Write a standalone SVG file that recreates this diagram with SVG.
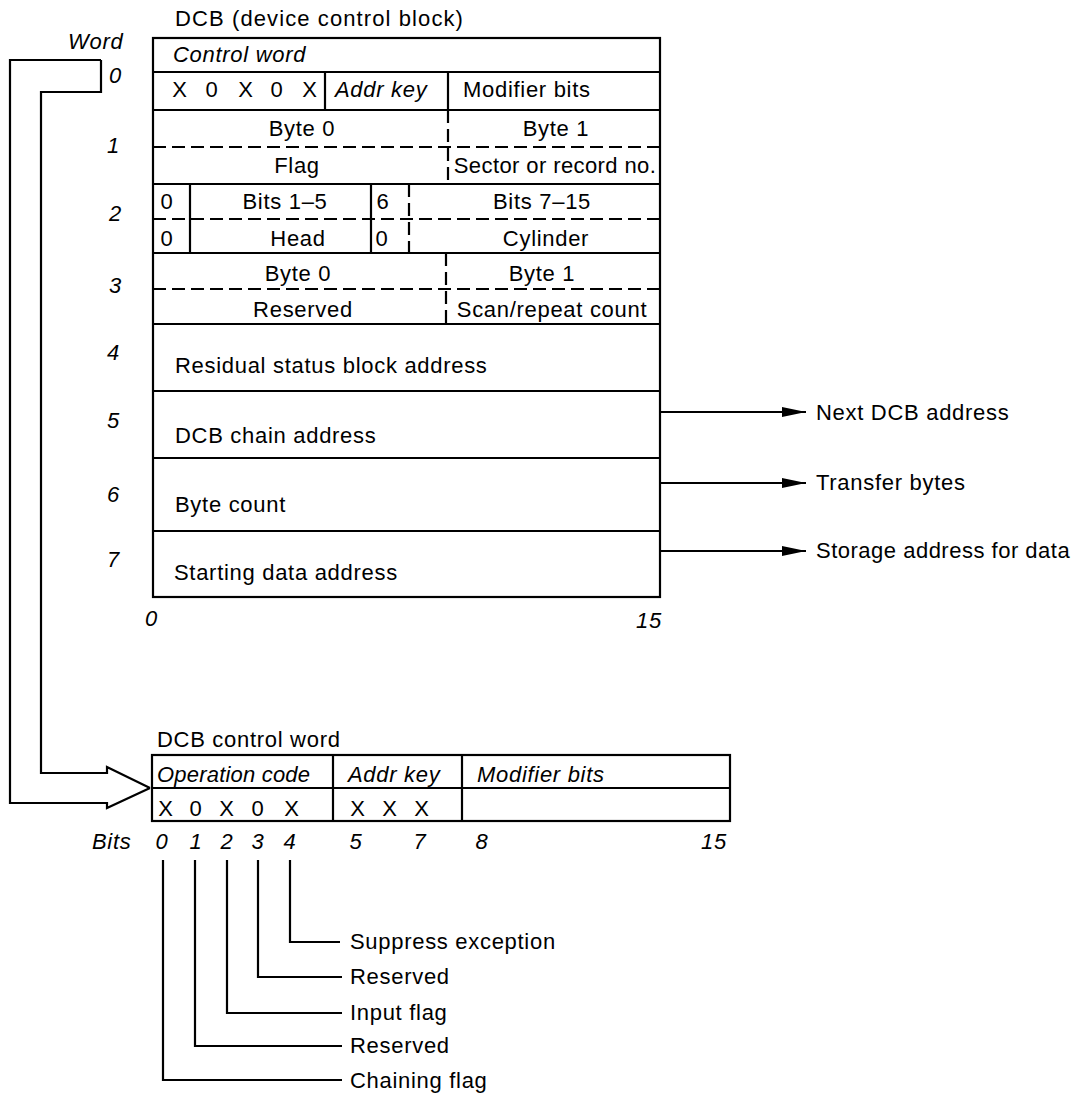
<svg xmlns="http://www.w3.org/2000/svg" width="1074" height="1095" viewBox="0 0 1074 1095">
<style>
.t{font-family:"Liberation Sans",Arial,Helvetica,sans-serif;font-size:22px;letter-spacing:0.7px;fill:#000}
.i{font-style:italic}
.m{text-anchor:middle}
.e{text-anchor:end}
.ln{stroke:#000;stroke-width:2.2;fill:none}
.ds{stroke-dasharray:13 6}
</style>
<defs>
<marker id="ah" markerUnits="userSpaceOnUse" markerWidth="26" markerHeight="12" refX="24" refY="6" orient="auto">
<path d="M0,1 L24,6 L0,11 Z" fill="#000"/>
</marker>
</defs>
<rect width="1074" height="1095" fill="#fff"/>

<g id="title-dcb"><text class="t" x="175" y="26" style="letter-spacing:1.1px">DCB (device control block)</text></g>
<g id="word-labels">
<text class="t i" x="68" y="49">Word</text>
<text class="t i e" x="122" y="83">0</text>
<text class="t i e" x="120" y="153">1</text>
<text class="t i e" x="122" y="221">2</text>
<text class="t i e" x="122" y="293">3</text>
<text class="t i e" x="120" y="360">4</text>
<text class="t i e" x="120" y="428">5</text>
<text class="t i e" x="120" y="502">6</text>
<text class="t i e" x="120" y="567">7</text>
<text class="t i" x="145" y="626">0</text>
<text class="t i" x="636" y="628">15</text>
</g>

<g id="dcb-table">
<rect class="ln" x="153" y="38" width="507" height="559"/>
<g class="ln">
<path d="M153,72H660 M153,110H660 M153,184H660 M153,253H660 M153,324H660 M153,391H660 M153,458H660 M153,531H660"/>
<path d="M325,72V110 M448,72V110 M190,184V253 M371,184V253"/>
<path class="ds" d="M153,147H660 M153,219H660 M153,289H660 M448,110V184 M409,184V253 M446,253V324"/>
</g>
</g>

<g id="word0">
<text class="t i" x="173" y="62">Control word</text>
<text class="t m" x="180" y="97">X</text>
<text class="t m" x="212" y="97">0</text>
<text class="t m" x="246" y="97">X</text>
<text class="t m" x="277" y="97">0</text>
<text class="t m" x="310" y="97">X</text>
<text class="t i" x="335" y="97">Addr key</text>
<text class="t" x="463" y="97">Modifier bits</text>
</g>
<g id="word1">
<text class="t m" x="302" y="136">Byte 0</text>
<text class="t m" x="556" y="136">Byte 1</text>
<text class="t m" x="297" y="173">Flag</text>
<text class="t m" x="555" y="173" style="letter-spacing:0.4px">Sector or record no.</text>
</g>
<g id="word2">
<text class="t m" x="167" y="209">0</text>
<text class="t m" x="285" y="209">Bits 1–5</text>
<text class="t m" x="383" y="209">6</text>
<text class="t m" x="542" y="209">Bits 7–15</text>
<text class="t m" x="167" y="246">0</text>
<text class="t m" x="298" y="246">Head</text>
<text class="t m" x="382" y="246">0</text>
<text class="t m" x="546" y="246">Cylinder</text>
</g>
<g id="word3">
<text class="t m" x="298" y="281">Byte 0</text>
<text class="t m" x="542" y="281">Byte 1</text>
<text class="t m" x="303" y="317">Reserved</text>
<text class="t m" x="552" y="317">Scan/repeat count</text>
</g>
<g id="word4"><text class="t" x="175" y="373">Residual status block address</text></g>
<g id="word5"><text class="t" x="175" y="443">DCB chain address</text></g>
<g id="word6"><text class="t" x="175" y="512">Byte count</text></g>
<g id="word7"><text class="t" x="174" y="580">Starting data address</text></g>

<g id="out-labels">
<text class="t" x="816" y="420">Next DCB address</text>
<text class="t" x="816" y="490">Transfer bytes</text>
<text class="t" x="816" y="558" style="letter-spacing:0.5px">Storage address for data</text>
</g>

<g id="control-word-table">
<text class="t" x="157" y="747">DCB control word</text>
<rect class="ln" x="152" y="755" width="578" height="66"/>
<path class="ln" d="M152,788H730 M333,755V821 M462,755V821"/>
<text class="t i" x="157" y="782" style="letter-spacing:0.2px">Operation code</text>
<text class="t i" x="348" y="782">Addr key</text>
<text class="t i" x="477" y="782">Modifier bits</text>
<text class="t m" x="166" y="816">X</text>
<text class="t m" x="196" y="816">0</text>
<text class="t m" x="227" y="816">X</text>
<text class="t m" x="258" y="816">0</text>
<text class="t m" x="292" y="816">X</text>
<text class="t m" x="358" y="816">X</text>
<text class="t m" x="390" y="816">X</text>
<text class="t m" x="422" y="816">X</text>
</g>

<g id="bit-labels">
<text class="t i" x="92" y="849">Bits</text>
<text class="t i m" x="162" y="849">0</text>
<text class="t i m" x="196" y="849">1</text>
<text class="t i m" x="227" y="849">2</text>
<text class="t i m" x="258" y="849">3</text>
<text class="t i m" x="290" y="849">4</text>
<text class="t i m" x="356" y="849">5</text>
<text class="t i m" x="420" y="849">7</text>
<text class="t i m" x="482" y="849">8</text>
<text class="t i" x="701" y="849">15</text>
</g>

<g id="bit-meanings">
<text class="t" x="350" y="949">Suppress exception</text>
<text class="t" x="350" y="984">Reserved</text>
<text class="t" x="350" y="1020">Input flag</text>
<text class="t" x="350" y="1053">Reserved</text>
<text class="t" x="350" y="1088">Chaining flag</text>
</g>

<g id="connectors" class="ln">
<path d="M101,60 L10,60 L10,803 L107,803 L107,808 L150,788"/>
<path d="M101,60 L101,92 L41,92 L41,773 L107,773 L107,767 L150,788"/>
<line x1="660" y1="412" x2="806" y2="412" marker-end="url(#ah)"/>
<line x1="660" y1="483" x2="806" y2="483" marker-end="url(#ah)"/>
<line x1="660" y1="551" x2="806" y2="551" marker-end="url(#ah)"/>
<path d="M290,860V942H340"/>
<path d="M258,860V977H342"/>
<path d="M227,860V1013H342"/>
<path d="M195,860V1046H342"/>
<path d="M163,860V1080H342"/>
</g>
</svg>
